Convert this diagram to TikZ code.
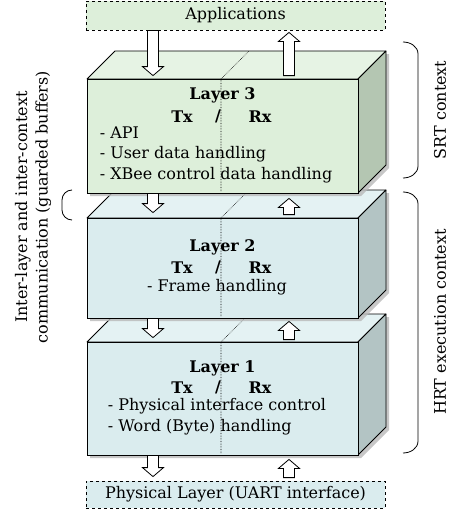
\documentclass[tikz,border=0pt]{standalone}
\usepackage{fontspec}
\setmainfont{DejaVu Serif}
\usetikzlibrary{calc,positioning}

\definecolor{srtfront}{HTML}{DDEFDA}
\definecolor{srttop}{HTML}{E6F3E4}
\definecolor{srtside}{HTML}{B4C6B2}
\definecolor{hrtfront}{HTML}{DAECEE}
\definecolor{hrttop}{HTML}{E4F2F3}
\definecolor{hrtside}{HTML}{B3C4C4}

% one layer as a box: #1 name, #2 front top, #3 front bottom, #4 colour set
\newcommand{\slab}[4]{%
  \fill[slabshadow] (90,#3+3) -- (90,#2+3) -- (118,#2-25) -- (389,#2-25)
    -- (389,#3-25) -- (361,#3+3) -- cycle;
  \filldraw[face, fill=#4top] (87,#2) -- (115,#2-28) -- (386,#2-28) -- (358,#2) -- cycle;
  \filldraw[face, fill=#4side] (358,#2) -- (386,#2-28) -- (386,#3-28) -- (358,#3) -- cycle;
  \node[front, fill=#4front, minimum height={(#3-#2)*1pt}] (#1) at (222.5,{(#2+#3)/2}) {};
  \draw[divider] (221,#3-2) -- (221,#2) -- (249,#2-28);
}

% hollow buffer arrow from #1 to the tip #2 (vertical)
\newcommand{\bufarrow}[2]{%
  \filldraw[buffer] let \p1=#1, \p2=#2, \n1={sign(\y2-\y1)*9pt} in
    ({\x1-5.5pt},\y1) -- ({\x1-5.5pt},{\y2-(\n1)}) -- ({\x1-10.5pt},{\y2-(\n1)}) -- (\x1,\y2)
    -- ({\x1+10.5pt},{\y2-(\n1)}) -- ({\x1+5.5pt},{\y2-(\n1)}) -- ({\x1+5.5pt},\y1) -- cycle;
}

\begin{document}
\begin{tikzpicture}[x=1pt, y=-1pt,
  font=\fontsize{16}{20.5}\selectfont,
  front/.style={draw, line width=0.8pt, inner sep=0pt, minimum width=271pt},
  face/.style={line width=0.8pt, line join=round},
  slabshadow/.style={fill=gray!55, opacity=0.8},
  divider/.style={densely dotted, line width=0.6pt},
  buffer/.style={draw, fill=white, line width=0.8pt, line join=miter},
  ext/.style={draw, dashed, line width=0.8pt, minimum width=299pt, inner sep=0pt},
  title/.style={font=\fontsize{16}{20.5}\selectfont\bfseries, inner sep=0pt},
  items/.style={align=left, inner sep=0pt, anchor=north west},
  ctxbrace/.style={line width=0.8pt},
  ctx/.style={rotate=90, align=center, inner sep=0pt},
]
  \useasboundingbox (0,0) rectangle (454,514);

  % columns of the buffer arrows
  \coordinate (txcol) at (153,0);
  \coordinate (rxcol) at (289,0);

  % outside world
  \node[ext, fill=srtfront, minimum height=29pt] (apps) at (235.5,15.5) {Applications};
  \node[ext, fill=hrtfront, minimum height=27pt] (phys) at (235.5,494.5) {Physical Layer (UART interface)};

  % Layer 1
  \slab{l1}{342}{455}{hrt}
  \node[title] at ([yshift=-27pt]l1.north) {Layer 1};
  \node[title] at ([xshift=-40.5pt,yshift=-46pt]l1.north) {Tx};
  \node[title] at ([xshift=-4.5pt,yshift=-46pt]l1.north) {/};
  \node[title] at ([xshift=37.5pt,yshift=-46pt]l1.north) {Rx};
  \node[items] at ([xshift=21pt,yshift=-57pt]l1.north west)
    {- Physical interface control\\- Word (Byte) handling};

  % Layer 2
  \slab{l2}{218}{318}{hrt}
  \node[title] at ([yshift=-30pt]l2.north) {Layer 2};
  \node[title] at ([xshift=-40.5pt,yshift=-50pt]l2.north) {Tx};
  \node[title] at ([xshift=-4.5pt,yshift=-50pt]l2.north) {/};
  \node[title] at ([xshift=37.5pt,yshift=-50pt]l2.north) {Rx};
  \node[inner sep=0pt] at ([xshift=-5.5pt,yshift=-70pt]l2.north) {- Frame handling};

  % Layer 3
  \slab{l3}{79}{193}{srt}
  \node[title] at ([yshift=-17pt]l3.north) {Layer 3};
  \node[title] at ([xshift=-40.5pt,yshift=-38pt]l3.north) {Tx};
  \node[title] at ([xshift=-4.5pt,yshift=-38pt]l3.north) {/};
  \node[title] at ([xshift=37.5pt,yshift=-38pt]l3.north) {Rx};
  \node[items] at ([xshift=13pt,yshift=-48pt]l3.north west)
    {- API\\- User data handling\\- XBee control data handling};

  % guarded buffers between the layers
  \bufarrow{(apps.south -| txcol)}{($(l3.north -| txcol)+(0,3pt)$)}
  \bufarrow{($(l3.north -| rxcol)+(0,3pt)$)}{($(apps.south -| rxcol)+(0,-2pt)$)}
  \bufarrow{(l3.south -| txcol)}{($(l2.north -| txcol)+(0,5pt)$)}
  \bufarrow{($(l2.north -| rxcol)+(0,3pt)$)}{($(l3.south -| rxcol)+(0,-5pt)$)}
  \bufarrow{(l2.south -| txcol)}{($(l1.north -| txcol)+(0,4pt)$)}
  \bufarrow{($(l1.north -| rxcol)+(0,2pt)$)}{($(l2.south -| rxcol)+(0,-3pt)$)}
  \bufarrow{(l1.south -| txcol)}{($(phys.north -| txcol)+(0,4pt)$)}
  \bufarrow{($(phys.north -| rxcol)+(0,3pt)$)}{($(l1.south -| rxcol)+(0,-4pt)$)}

  % execution contexts
  \draw[ctxbrace] (403,42) to[out=0,in=90] (418,54) -- (418,166) to[out=-90,in=0] (403,178);
  \node[ctx] (srt) at (440,110) {SRT context};
  \draw[ctxbrace] (403,192) to[out=0,in=90] (418,204) -- (418,441) to[out=-90,in=0] (403,453);
  \node[ctx] (hrt) at (440,322) {HRT execution context};

  % inter-layer communication
  \draw[ctxbrace] (72,190) to[out=180,in=90] (62,200) -- (62,210) to[out=-90,in=180] (72,220);
  \node[ctx] (comm) at (33,207) {Inter-layer and inter-context\\communication (guarded buffers)};
\end{tikzpicture}
\end{document}
